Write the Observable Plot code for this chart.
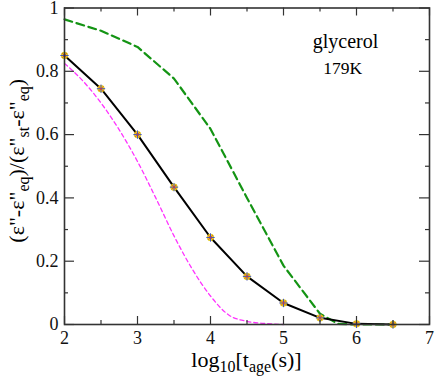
<!DOCTYPE html>
<html>
<head>
<meta charset="utf-8">
<script src="https://cdn.jsdelivr.net/npm/d3@7"></script>
<script src="https://cdn.jsdelivr.net/npm/@observablehq/plot@0.6"></script>
<style>
  html, body { margin: 0; padding: 0; background: #fff; }
  svg { display: block; }
  svg, svg text, svg tspan { font-family: "Liberation Serif", "Times New Roman", Times, serif !important; }
</style>
</head>
<body>
<div id="chart"></div>
<script>
// Data
const blackX = [2, 2.5, 3, 3.5, 4, 4.5, 5, 5.5, 6, 6.5];
const blackY = [0.85, 0.745, 0.60, 0.434, 0.275, 0.152, 0.068, 0.021, 0.002, 0.0];

const greenX = [2, 2.5, 3, 3.5, 4, 4.5, 5, 5.5, 5.75, 6, 6.5];
const greenY = [0.964, 0.928, 0.877, 0.777, 0.618, 0.40, 0.186, 0.034, 0.002, 0.0, 0.0];

const magentaX = [2, 2.25, 2.5, 2.75, 3, 3.25, 3.5, 3.75, 4, 4.25, 4.5, 4.75, 5];
const magentaY = [0.825, 0.77, 0.70, 0.615, 0.515, 0.40, 0.28, 0.175, 0.09, 0.03, 0.01, 0.003, 0.0];

const xMajor = [2, 3, 4, 5, 6, 7];
const xMinor = [2.5, 3.5, 4.5, 5.5, 6.5];
const yMajor = [0, 0.2, 0.4, 0.6, 0.8, 1];
const yMinor = [0.1, 0.3, 0.5, 0.7, 0.9];
const yTickLabels = ["0", "0.2", "0.4", "0.6", "0.8", "1"];

const annotText = ["glycerol", "179K"];
const annotX = [5.85, 5.81];
const annotY = [0.875, 0.793];
const annotSize = [20, 17.5];

const black = blackX.map((x, i) => ({x, y: blackY[i]}));
const green = greenX.map((x, i) => ({x, y: greenY[i]}));
const magenta = magentaX.map((x, i) => ({x, y: magentaY[i]}));
const annots = annotText.map((t, i) => ({t, x: annotX[i], y: annotY[i], s: annotSize[i]}));

const W = 436, H = 381;
const mL = 64, mR = 7, mT = 7.5, mB = 57;
const innerH = H - mT - mB;
const innerW = W - mL - mR;
const serif = "Liberation Serif";

const chart = Plot.plot({
  width: W, height: H,
  marginLeft: mL, marginRight: mR, marginTop: mT, marginBottom: mB,
  style: {background: "#fff", overflow: "visible"},
  x: {domain: [2, 7]},
  y: {domain: [0, 1]},
  marks: [
    Plot.line(magenta, {x: "x", y: "y", stroke: "#ff33ff", strokeWidth: 1.3, strokeDasharray: "4,3", curve: "monotone-x"}),
    Plot.line(green, {x: "x", y: "y", stroke: "#149414", strokeWidth: 2.2, strokeDasharray: "8,4.5"}),
    Plot.line(black, {x: "x", y: "y", stroke: "#000", strokeWidth: 2}),
    Plot.dot(black, {x: "x", y: "y", r: 3.4, fill: "#e8d41c", stroke: "#d4b800", strokeWidth: 0.5}),
    Plot.dot(black, {x: "x", y: "y", r: 2.8, symbol: "plus", stroke: "#3344cc", strokeWidth: 0.9}),
    Plot.dot(black, {x: "x", y: "y", r: 2.2, symbol: "times", stroke: "#e03030", strokeWidth: 0.8}),
    Plot.tickX(xMajor, {x: d => d, insetTop: innerH - 8, stroke: "#333", strokeWidth: 1.2}),
    Plot.tickX(xMajor, {x: d => d, insetBottom: innerH - 8, stroke: "#333", strokeWidth: 1.2}),
    Plot.tickX(xMinor, {x: d => d, insetTop: innerH - 4, stroke: "#333", strokeWidth: 1.2}),
    Plot.tickX(xMinor, {x: d => d, insetBottom: innerH - 4, stroke: "#333", strokeWidth: 1.2}),
    Plot.tickY(yMajor, {y: d => d, insetRight: innerW - 10, stroke: "#333", strokeWidth: 1.2}),
    Plot.tickY(yMajor, {y: d => d, insetLeft: innerW - 10, stroke: "#333", strokeWidth: 1.2}),
    Plot.tickY(yMinor, {y: d => d, insetRight: innerW - 4, stroke: "#333", strokeWidth: 1.2}),
    Plot.tickY(yMinor, {y: d => d, insetLeft: innerW - 4, stroke: "#333", strokeWidth: 1.2}),
    Plot.axisX(xMajor, {tickSize: 0, tickPadding: 7, fontSize: 18, label: null, fill: "#111", tickFormat: d => String(d)}),
    Plot.axisY(yMajor, {tickSize: 0, tickPadding: 6, fontSize: 18, label: null, fill: "#111", tickFormat: d => yTickLabels[yMajor.indexOf(d)]}),
    Plot.frame({stroke: "#333", strokeWidth: 1.6}),
    Plot.text(annots, {x: "x", y: "y", text: "t", fontSize: "s", fill: "#000", textAnchor: "middle", lineAnchor: "bottom"})
  ]
});

const svg = d3.select(chart);
svg.attr("font-family", serif);

const xl = svg.append("text")
  .attr("x", mL + innerW / 2)
  .attr("y", 367)
  .attr("text-anchor", "middle")
  .attr("font-family", serif)
  .attr("font-size", 22)
  .attr("fill", "#000");
xl.append("tspan").text("log");
xl.append("tspan").attr("dy", 5).attr("font-size", 16).text("10");
xl.append("tspan").attr("dy", -5).text("[t");
xl.append("tspan").attr("dy", 5).attr("font-size", 16).text("age");
xl.append("tspan").attr("dy", -5).text("(s)]");

const yl = svg.append("text")
  .attr("transform", `translate(24, ${mT + innerH / 2 - 5}) rotate(-90)`)
  .attr("text-anchor", "middle")
  .attr("font-family", serif)
  .attr("font-size", 22)
  .attr("fill", "#000");
yl.append("tspan").text("(\u03b5\"-\u03b5\"");
yl.append("tspan").attr("dy", 5).attr("font-size", 16).text("eq");
yl.append("tspan").attr("dy", -5).text(")/(\u03b5\"");
yl.append("tspan").attr("dy", 5).attr("font-size", 16).text("st");
yl.append("tspan").attr("dy", -5).text("-\u03b5\"");
yl.append("tspan").attr("dy", 5).attr("font-size", 16).text("eq");
yl.append("tspan").attr("dy", -5).text(")");

document.getElementById("chart").appendChild(chart);
</script>
</body>
</html>
